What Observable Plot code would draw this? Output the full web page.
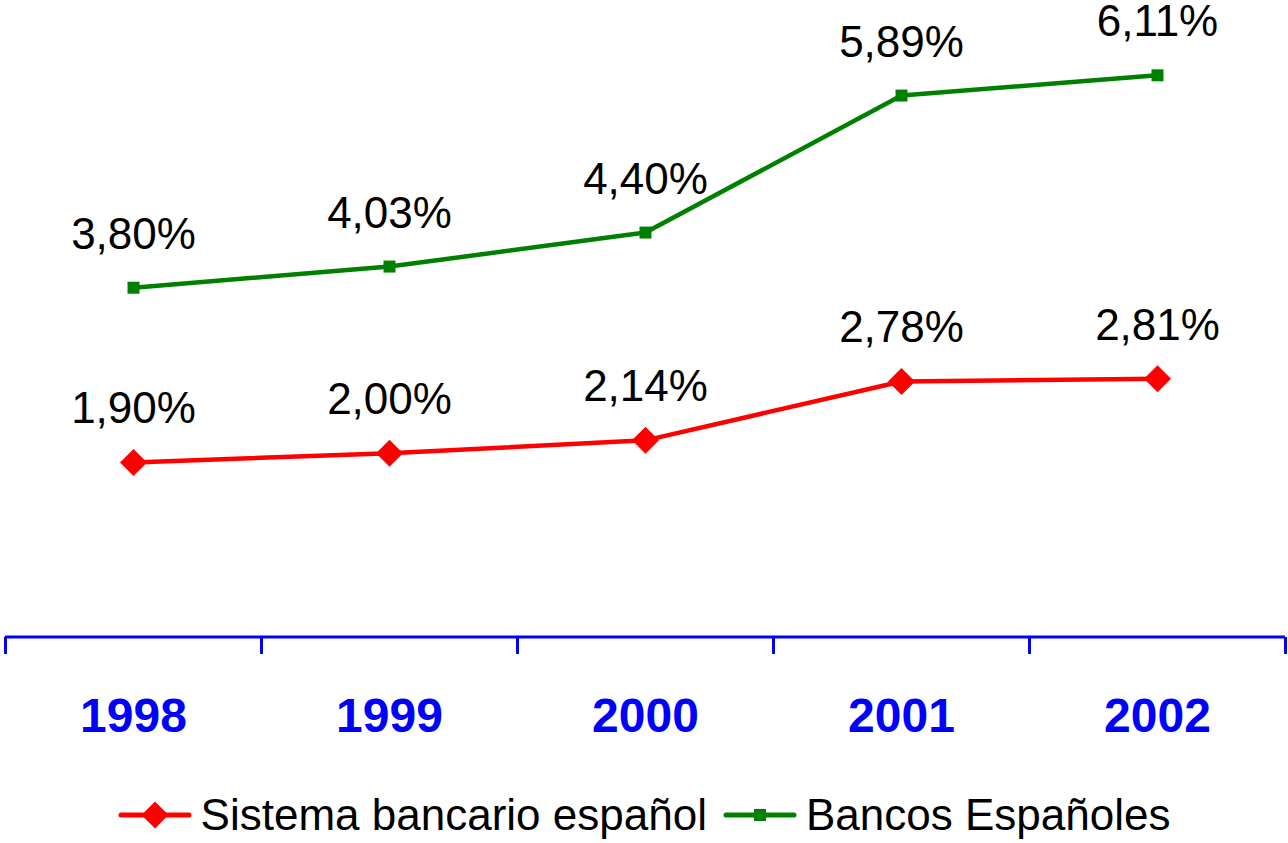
<!DOCTYPE html>
<html>
<head>
<meta charset="utf-8">
<script src="https://cdn.jsdelivr.net/npm/d3@7"></script>
<script src="https://cdn.jsdelivr.net/npm/@observablehq/plot@0.6"></script>
<style>
  body { margin: 0; background: #fff; font-family: "Liberation Sans", Arial, sans-serif; }
  #chart svg { display: block; }
  #legend { display: flex; justify-content: center; align-items: center; height: 48px; margin-top: 21px; font-size: 44px; color: #000; }
  .item { display: flex; align-items: center; }
  .item svg { display: block; margin-right: 9px; }
  .gap { width: 16px; }
</style>
</head>
<body>
<div id="chart"></div>
<div id="legend"></div>
<script>
const years = [1998, 1999, 2000, 2001, 2002];
const sistema = [1.90, 2.00, 2.14, 2.78, 2.81];
const bancos = [3.80, 4.03, 4.40, 5.89, 6.11];
const seriesNames = ["Sistema bancario español", "Bancos Españoles"];
const seriesColors = ["#ff0000", "#008000"];
const axisColor = "#0000ff";

const rows = years.flatMap((yr, i) => [
  {year: yr, value: sistema[i], series: seriesNames[0]},
  {year: yr, value: bancos[i], series: seriesNames[1]}
]);
const boundaries = d3.range(years.length + 1).map(i => years[0] - 0.5 + i);

const diamondSym = {draw(ctx, size) { const r = Math.sqrt(size / Math.PI); ctx.moveTo(0, -r); ctx.lineTo(r, 0); ctx.lineTo(0, r); ctx.lineTo(-r, 0); ctx.closePath(); }};
const squareSym = {draw(ctx, size) { const r = Math.sqrt(size / Math.PI); ctx.rect(-r, -r, 2 * r, 2 * r); }};

const fmt = v => d3.format(".2f")(v).replace(".", ",") + "%";

const chart = Plot.plot({
  width: 1288,
  height: 770,
  marginLeft: 5,
  marginRight: 3,
  marginTop: 0,
  marginBottom: 133,
  style: {fontFamily: "'Liberation Sans', Arial, sans-serif", background: "#fff"},
  x: {type: "linear", domain: [boundaries[0], boundaries[boundaries.length - 1]], label: null},
  y: {domain: [0, 7], range: [636.6, -7], axis: null},
  color: {domain: seriesNames, range: seriesColors},
  marks: [
    Plot.ruleY([0], {stroke: axisColor, strokeWidth: 3}),
    Plot.axisX(boundaries, {tickSize: 17, stroke: axisColor, strokeWidth: 3, tickFormat: () => "", label: null}),
    Plot.text(years, {x: d => d, y: 0, text: d => String(d), dy: 95, lineAnchor: "bottom", fontSize: 48, fontWeight: "bold", fill: axisColor}),
    Plot.line(rows, {x: "year", y: "value", z: "series", stroke: "series", strokeWidth: 4.5}),
    Plot.dot(rows.filter(d => d.series === seriesNames[0]), {x: "year", y: "value", r: 13.5, symbol: diamondSym, fill: seriesColors[0], stroke: "none"}),
    Plot.dot(rows.filter(d => d.series === seriesNames[1]), {x: "year", y: "value", r: 6, symbol: squareSym, fill: seriesColors[1], stroke: "none"}),
    Plot.text(rows, {x: "year", y: "value", text: d => fmt(d.value), dy: -39, lineAnchor: "bottom", fontSize: 44, fill: "#000"})
  ]
});
document.getElementById("chart").append(chart);

const legend = document.getElementById("legend");
const ns = "http://www.w3.org/2000/svg";
seriesNames.forEach((name, i) => {
  if (i > 0) { const g = document.createElement("div"); g.className = "gap"; legend.append(g); }
  const item = document.createElement("div");
  item.className = "item";
  const sw = document.createElementNS(ns, "svg");
  sw.setAttribute("width", 74); sw.setAttribute("height", 30);
  const ln = document.createElementNS(ns, "line");
  ln.setAttribute("x1", 3); ln.setAttribute("x2", 71); ln.setAttribute("y1", 15); ln.setAttribute("y2", 15);
  ln.setAttribute("stroke", seriesColors[i]); ln.setAttribute("stroke-width", 5); ln.setAttribute("stroke-linecap", "round");
  sw.append(ln);
  const mk = document.createElementNS(ns, "path");
  mk.setAttribute("d", i === 0 ? "M37,1.5L50.5,15L37,28.5L23.5,15Z" : "M31,9h12v12h-12Z");
  mk.setAttribute("fill", seriesColors[i]);
  sw.append(mk);
  const tx = document.createElement("span");
  tx.textContent = name;
  item.append(sw, tx);
  legend.append(item);
});
</script>
</body>
</html>
